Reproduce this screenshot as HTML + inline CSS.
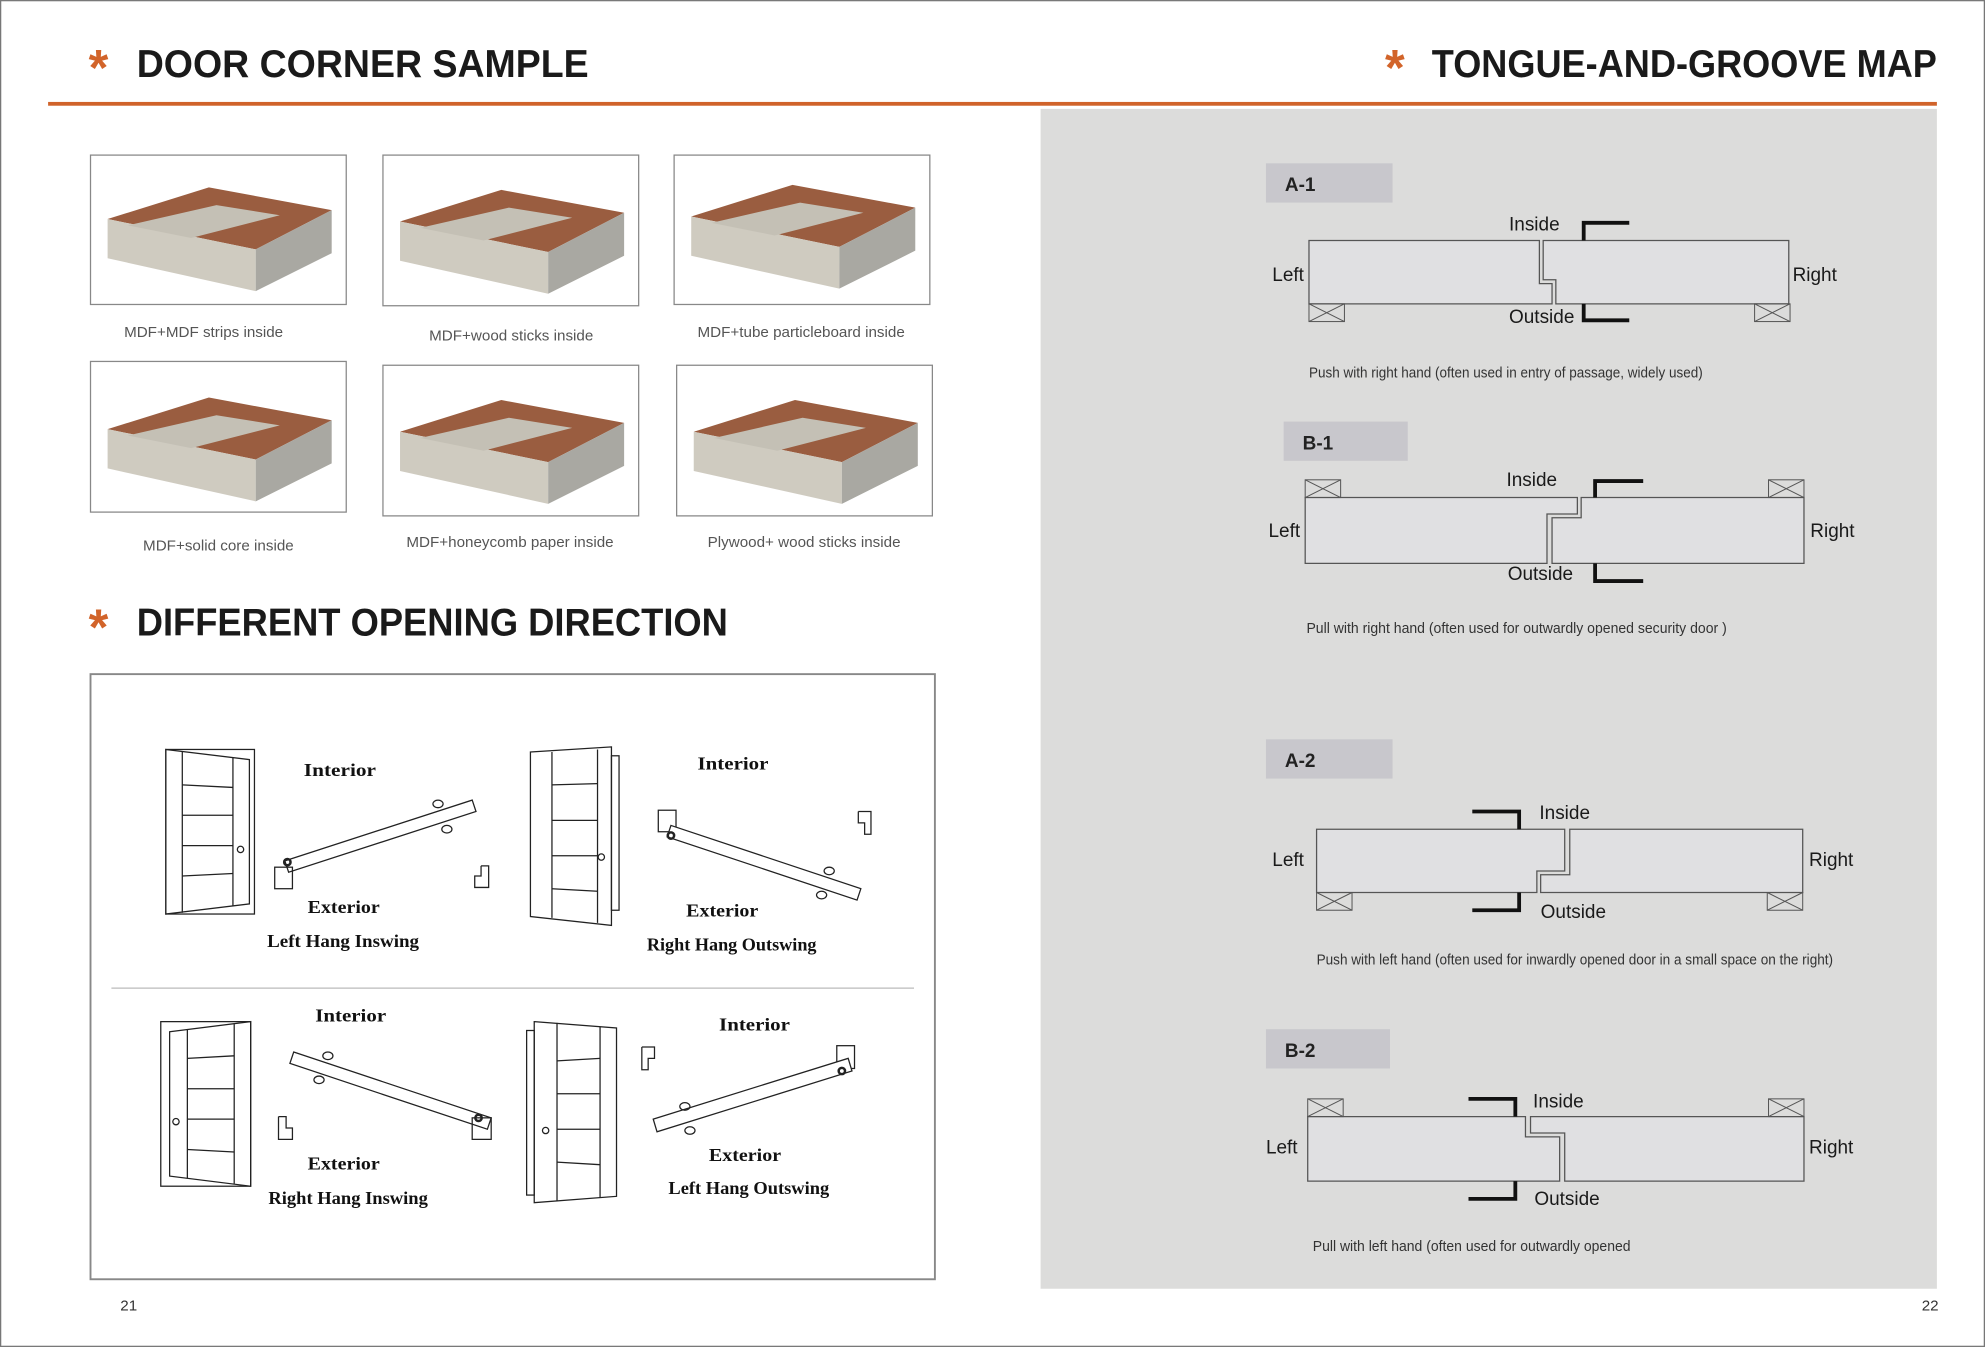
<!DOCTYPE html>
<html><head><meta charset="utf-8"><style>
html,body{margin:0;padding:0;background:#fff}
svg{display:block}
.h{font-family:"Liberation Sans",Arial,sans-serif;font-weight:bold;fill:#1a1a1a}
.ast{font-family:"Liberation Sans",sans-serif;font-weight:bold;fill:#d2642a}
.cap{font-family:"Liberation Sans",sans-serif;fill:#555;font-size:12px}
.lb{font-family:"Liberation Sans",sans-serif;fill:#1a1a1a;font-size:15px}
.sm{font-family:"Liberation Sans",sans-serif;fill:#333;font-size:11.5px}
.tag{font-family:"Liberation Sans",sans-serif;font-weight:bold;fill:#222;font-size:15px}
.d{font-family:"Liberation Serif",serif;font-weight:bold;fill:#111;font-size:14px}
.pn{fill:#e0e0e2;stroke:#555;stroke-width:1}
.bk{fill:none;stroke:#111;stroke-width:3}
.x{fill:none;stroke:#555;stroke-width:0.8}
</style></head><body>
<svg width="1985" height="1347" viewBox="0 0 1568 1064" xmlns="http://www.w3.org/2000/svg">
<defs>
<g id="slab">
<polygon points="14,51 94,26 191,44 131,75" fill="#9a5d40"/>
<polygon points="14,51 131,75 131,108 14,82" fill="#cfcbc0"/>
<polygon points="131,75 191,44 191,78 131,108" fill="#a9a8a2"/>
<polygon points="30,56 100,40 150,48 80,66" fill="#c4c0b5"/>
</g>
<g id="xb"><rect width="28" height="14" class="x"/><line x1="0" y1="0" x2="28" y2="14" class="x"/><line x1="28" y1="0" x2="0" y2="14" class="x"/></g>
</defs>
<rect x="0.5" y="0.5" width="1567" height="1063" fill="#fff" stroke="#777"/>
<rect x="822" y="86" width="708" height="932" fill="#dcdcdb"/>
<rect x="38" y="80.5" width="1492" height="3" fill="#d0632a"/>
<text x="70" y="67" class="ast" font-size="40">*</text>
<text x="108" y="61" class="h" font-size="31" textLength="357" lengthAdjust="spacingAndGlyphs">DOOR  CORNER  SAMPLE</text>
<text x="1094" y="67" class="ast" font-size="40">*</text>
<text x="1131" y="61" class="h" font-size="31" textLength="399" lengthAdjust="spacingAndGlyphs">TONGUE-AND-GROOVE MAP</text>

<rect x="71.5" y="122.5" width="202" height="118" fill="#fff" stroke="#888"/>
<use href="#slab" x="71" y="122"/>
<rect x="302.5" y="122.5" width="202" height="119" fill="#fff" stroke="#888"/>
<use href="#slab" x="302" y="124"/>
<rect x="532.5" y="122.5" width="202" height="118" fill="#fff" stroke="#888"/>
<use href="#slab" x="532" y="120"/>
<rect x="71.5" y="285.5" width="202" height="119" fill="#fff" stroke="#888"/>
<use href="#slab" x="71" y="288"/>
<rect x="302.5" y="288.5" width="202" height="119" fill="#fff" stroke="#888"/>
<use href="#slab" x="302" y="290"/>
<rect x="534.5" y="288.5" width="202" height="119" fill="#fff" stroke="#888"/>
<use href="#slab" x="534" y="290"/>
<text x="98" y="266" class="cap">MDF+MDF strips inside</text>
<text x="339" y="269" class="cap">MDF+wood sticks inside</text>
<text x="551" y="266" class="cap">MDF+tube particleboard inside</text>
<text x="113" y="435" class="cap">MDF+solid core inside</text>
<text x="321" y="432" class="cap">MDF+honeycomb paper inside</text>
<text x="559" y="432" class="cap">Plywood+ wood sticks inside</text>

<text x="70" y="509" class="ast" font-size="40">*</text>
<text x="108" y="502" class="h" font-size="31" textLength="467" lengthAdjust="spacingAndGlyphs">DIFFERENT OPENING DIRECTION</text>

<rect x="71.5" y="532.5" width="667" height="478" fill="#fff" stroke="#888" stroke-width="1.5"/>
<line x1="88" y1="780.5" x2="722" y2="780.5" stroke="#bbb"/>

<g fill="none" stroke="#222" stroke-width="1">
<rect x="131" y="592" width="70" height="130"/>
<polygon points="131,592 197,600 197,714 131,722"/>
<line x1="144" y1="594" x2="144" y2="721"/><line x1="184" y1="598" x2="184" y2="716"/>
<line x1="144" y1="620" x2="184" y2="622"/><line x1="144" y1="644" x2="184" y2="644"/><line x1="144" y1="668" x2="184" y2="668"/><line x1="144" y1="692" x2="184" y2="690"/>
<circle cx="190" cy="671" r="2.5"/>
<polygon points="225,680 373,632 376,641 228,689" fill="#fff"/>
<rect x="217" y="685" width="14" height="17"/>
<circle cx="227" cy="681" r="2.5" stroke-width="2"/>
<ellipse cx="346" cy="635" rx="4" ry="3"/><ellipse cx="353" cy="655" rx="4" ry="3"/>
<polyline points="380,684 386,684 386,701 375,701 375,692 380,692 380,684"/>
</g>
<text x="240" y="613" class="d" textLength="57" lengthAdjust="spacingAndGlyphs">Interior</text>
<text x="243" y="721" class="d" textLength="57" lengthAdjust="spacingAndGlyphs">Exterior</text>
<text x="211" y="748" class="d" textLength="120" lengthAdjust="spacingAndGlyphs">Left Hang Inswing</text>

<g fill="none" stroke="#222" stroke-width="1">
<rect x="483" y="597" width="6" height="122"/>
<polygon points="419,594 483,590 483,731 419,724"/>
<line x1="436" y1="594" x2="436" y2="725"/><line x1="472" y1="592" x2="472" y2="729"/>
<line x1="436" y1="620" x2="472" y2="619"/><line x1="436" y1="648" x2="472" y2="648"/><line x1="436" y1="676" x2="472" y2="676"/><line x1="436" y1="702" x2="472" y2="704"/>
<circle cx="475" cy="677" r="2.5"/>
<rect x="520" y="640" width="14" height="17"/>
<polygon points="530,652 680,702 677,711 527,661" fill="#fff"/>
<circle cx="530" cy="660" r="2.5" stroke-width="2"/>
<ellipse cx="655" cy="688" rx="4" ry="3"/><ellipse cx="649" cy="707" rx="4" ry="3"/>
<polyline points="678,641 688,641 688,659 683,659 683,650 678,650 678,641"/>
</g>
<text x="551" y="608" class="d" textLength="56" lengthAdjust="spacingAndGlyphs">Interior</text>
<text x="542" y="724" class="d" textLength="57" lengthAdjust="spacingAndGlyphs">Exterior</text>
<text x="511" y="751" class="d" textLength="134" lengthAdjust="spacingAndGlyphs">Right Hang Outswing</text>

<g fill="none" stroke="#222" stroke-width="1">
<rect x="127" y="807" width="71" height="130"/>
<polygon points="134,815 198,807 198,937 134,929"/>
<line x1="148" y1="813" x2="148" y2="931"/><line x1="185" y1="809" x2="185" y2="935"/>
<line x1="148" y1="836" x2="185" y2="834"/><line x1="148" y1="860" x2="185" y2="860"/><line x1="148" y1="884" x2="185" y2="884"/><line x1="148" y1="908" x2="185" y2="910"/>
<circle cx="139" cy="886" r="2.5"/>
<polygon points="232,831 388,883 385,892 229,840" fill="#fff"/>
<rect x="373" y="883" width="15" height="17"/>
<circle cx="378" cy="883" r="2.5" stroke-width="2"/>
<ellipse cx="259" cy="834" rx="4" ry="3"/><ellipse cx="252" cy="853" rx="4" ry="3"/>
<polyline points="220,882 226,882 226,891 231,891 231,900 220,900 220,882"/>
</g>
<text x="249" y="807" class="d" textLength="56" lengthAdjust="spacingAndGlyphs">Interior</text>
<text x="243" y="924" class="d" textLength="57" lengthAdjust="spacingAndGlyphs">Exterior</text>
<text x="212" y="951" class="d" textLength="126" lengthAdjust="spacingAndGlyphs">Right Hang Inswing</text>

<g fill="none" stroke="#222" stroke-width="1">
<rect x="416" y="814" width="6" height="130"/>
<polygon points="422,807 487,812 487,945 422,950"/>
<line x1="440" y1="808" x2="440" y2="949"/><line x1="474" y1="811" x2="474" y2="946"/>
<line x1="440" y1="838" x2="474" y2="836"/><line x1="440" y1="864" x2="474" y2="864"/><line x1="440" y1="892" x2="474" y2="892"/><line x1="440" y1="918" x2="474" y2="920"/>
<circle cx="431" cy="893" r="2.5"/>
<rect x="661" y="826" width="14" height="18"/>
<polygon points="516,884 670,836 673,846 519,894" fill="#fff"/>
<circle cx="665" cy="846" r="2.5" stroke-width="2"/>
<ellipse cx="541" cy="874" rx="4" ry="3"/><ellipse cx="545" cy="893" rx="4" ry="3"/>
<polyline points="507,827 517,827 517,836 512,836 512,845 507,845 507,827"/>
</g>
<text x="568" y="814" class="d" textLength="56" lengthAdjust="spacingAndGlyphs">Interior</text>
<text x="560" y="917" class="d" textLength="57" lengthAdjust="spacingAndGlyphs">Exterior</text>
<text x="528" y="943" class="d" textLength="127" lengthAdjust="spacingAndGlyphs">Left Hang Outswing</text>

<text x="95" y="1035" font-family="Liberation Sans,sans-serif" font-size="12" fill="#333">21</text>
<text x="1518" y="1035" font-family="Liberation Sans,sans-serif" font-size="12" fill="#333">22</text>

<rect x="1000" y="129" width="100" height="31" fill="#c8c7cc"/>
<text x="1015" y="151" class="tag">A-1</text>
<polygon class="pn" points="1034,190 1216,190 1216,224 1226,224 1226,240 1034,240"/>
<polygon class="pn" points="1219,190 1413,190 1413,240 1229,240 1229,221 1219,221"/>
<use href="#xb" x="1034" y="240"/><use href="#xb" x="1386" y="240"/>
<polyline class="bk" points="1251,190 1251,176 1287,176"/>
<polyline class="bk" points="1251,240 1251,253 1287,253"/>
<text x="1192" y="182" class="lb">Inside</text>
<text x="1192" y="255" class="lb">Outside</text>
<text x="1005" y="222" class="lb">Left</text>
<text x="1416" y="222" class="lb">Right</text>
<text x="1034" y="298" class="sm" textLength="311" lengthAdjust="spacingAndGlyphs">Push with right hand (often used in entry of passage, widely used)</text>

<rect x="1014" y="333" width="98" height="31" fill="#c8c7cc"/>
<text x="1029" y="355" class="tag">B-1</text>
<polygon class="pn" points="1031,393 1246,393 1246,406 1222,406 1222,445 1031,445"/>
<polygon class="pn" points="1249,393 1425,393 1425,445 1226,445 1226,409 1249,409"/>
<use href="#xb" x="1031" y="379"/><use href="#xb" x="1397" y="379"/>
<polyline class="bk" points="1260,393 1260,380 1298,380"/>
<polyline class="bk" points="1260,445 1260,459 1298,459"/>
<text x="1190" y="384" class="lb">Inside</text>
<text x="1191" y="458" class="lb">Outside</text>
<text x="1002" y="424" class="lb">Left</text>
<text x="1430" y="424" class="lb">Right</text>
<text x="1032" y="500" class="sm" textLength="332" lengthAdjust="spacingAndGlyphs">Pull with right hand (often used for outwardly opened security door )</text>

<rect x="1000" y="584" width="100" height="31" fill="#c8c7cc"/>
<text x="1015" y="606" class="tag">A-2</text>
<polygon class="pn" points="1040,655 1236,655 1236,688 1214,688 1214,705 1040,705"/>
<polygon class="pn" points="1240,655 1424,655 1424,705 1217,705 1217,691 1240,691"/>
<use href="#xb" x="1040" y="705"/><use href="#xb" x="1396" y="705"/>
<polyline class="bk" points="1200,655 1200,641 1163,641"/>
<polyline class="bk" points="1200,705 1200,719 1163,719"/>
<text x="1216" y="647" class="lb">Inside</text>
<text x="1217" y="725" class="lb">Outside</text>
<text x="1005" y="684" class="lb">Left</text>
<text x="1429" y="684" class="lb">Right</text>
<text x="1040" y="762" class="sm" textLength="408" lengthAdjust="spacingAndGlyphs">Push with left hand (often used for inwardly opened door in a small space on the right)</text>

<rect x="1000" y="813" width="98" height="31" fill="#c8c7cc"/>
<text x="1015" y="835" class="tag">B-2</text>
<polygon class="pn" points="1033,882 1205,882 1205,898 1232,898 1232,933 1033,933"/>
<polygon class="pn" points="1209,882 1425,882 1425,933 1236,933 1236,895 1209,895"/>
<use href="#xb" x="1033" y="868"/><use href="#xb" x="1397" y="868"/>
<polyline class="bk" points="1197,882 1197,868 1160,868"/>
<polyline class="bk" points="1197,933 1197,947 1160,947"/>
<text x="1211" y="875" class="lb">Inside</text>
<text x="1212" y="952" class="lb">Outside</text>
<text x="1000" y="911" class="lb">Left</text>
<text x="1429" y="911" class="lb">Right</text>
<text x="1037" y="988" class="sm" textLength="251" lengthAdjust="spacingAndGlyphs">Pull with left hand (often used for outwardly opened</text>
</svg>
</body></html>
